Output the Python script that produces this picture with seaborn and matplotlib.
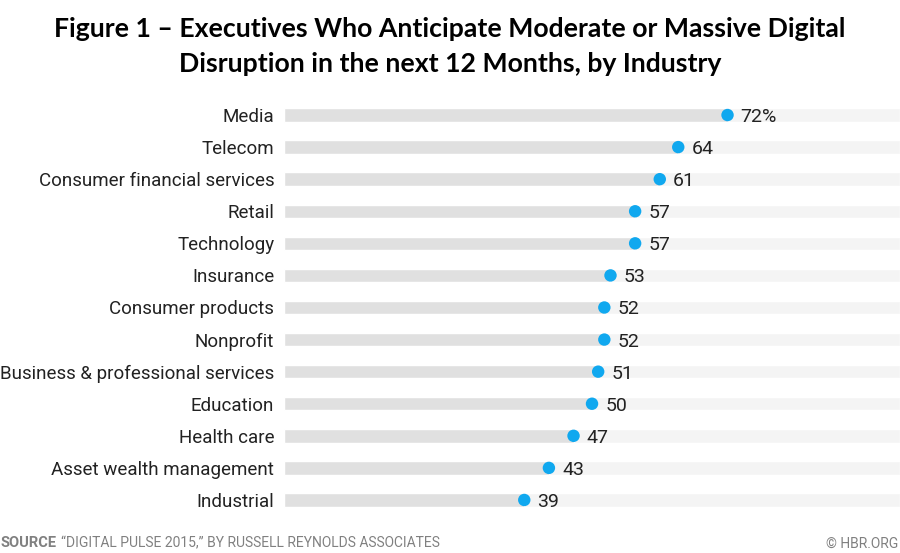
import matplotlib
matplotlib.use("Agg")
import matplotlib.pyplot as plt
import seaborn as sns
import pandas as pd

industries = ["Media", "Telecom", "Consumer financial services", "Retail", "Technology",
              "Insurance", "Consumer products", "Nonprofit", "Business & professional services",
              "Education", "Health care", "Asset wealth management", "Industrial"]
values = [72, 64, 61, 57, 57, 53, 52, 52, 51, 50, 47, 43, 39]
value_labels = ["72%", "64", "61", "57", "57", "53", "52", "52", "51", "50", "47", "43", "39"]
scale_max = 100

title = "Figure 1 – Executives Who Anticipate Moderate or Massive Digital\nDisruption in the next 12 Months, by Industry"
source_bold = "SOURCE"
source_text = "“DIGITAL PULSE 2015,” BY RUSSELL REYNOLDS ASSOCIATES"
credit = "© HBR.ORG"

sns.set_theme(style="white")
plt.rcParams['font.family'] = ['Roboto', 'DejaVu Sans']

df = pd.DataFrame({"industry": industries, "value": values,
                   "track": [scale_max] * len(industries)})

fig = plt.figure(figsize=(9, 5.53), dpi=100)
ax = fig.add_axes([0.3156, 0.0669, 0.6844, 0.7541])

sns.barplot(data=df, y="industry", x="track", orient="h", color="#f4f4f4",
            width=0.42, ax=ax, saturation=1)
sns.barplot(data=df, y="industry", x="value", orient="h", color="#e0e0e0",
            width=0.42, ax=ax, saturation=1)
sns.scatterplot(data=df, y="industry", x="value", color="#10a8ef", s=80,
                edgecolor="none", ax=ax, zorder=5)

for i, (v, lab) in enumerate(zip(values, value_labels)):
    ax.annotate(lab, xy=(v, i), xytext=(9.5, 0), textcoords="offset points",
                va="center_baseline", ha="left", fontsize=14, color="#222222")

ax.set_xlim(0, scale_max)
ax.set_ylim(len(industries) - 0.5, -0.5)
ax.set_xlabel("")
ax.set_ylabel("")
ax.set_xticks([])
ax.tick_params(axis="y", length=0, pad=7, labelsize=13.5, labelcolor="#222222")
for s in ax.spines.values():
    s.set_visible(False)

fig.text(0.5, 0.97, title, ha="center", va="top", fontsize=19.2, fontweight="bold",
         family=["Lato", "DejaVu Sans"], color="black", linespacing=1.55)
fig.text(0.001, 0.01, source_bold, ha="left", va="baseline", fontsize=10.5,
         fontweight="bold", color="#808080")
fig.text(0.068, 0.01, source_text, ha="left", va="baseline", fontsize=10, color="#808080")
fig.text(0.998, 0.01, credit, ha="right", va="baseline", fontsize=10, color="#808080")

fig.savefig("out.png", dpi=100)
